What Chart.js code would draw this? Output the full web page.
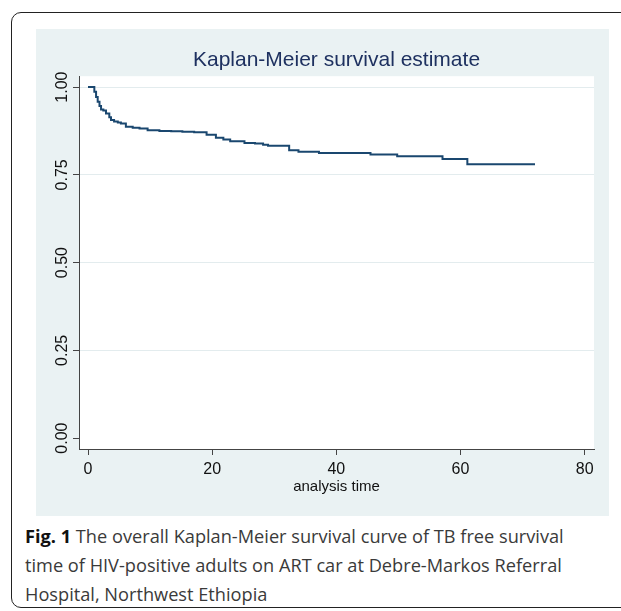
<!DOCTYPE html>
<html>
<head>
<meta charset="utf-8">
<script src="https://cdn.jsdelivr.net/npm/chart.js@4.4.1/dist/chart.umd.min.js"></script>
<style>
  html, body { margin: 0; padding: 0; background: #fff; overflow: hidden; }
  body { width: 621px; height: 611px; position: relative; }
  .frame {
    position: absolute; left: 11px; top: 12px; width: 700px; height: 594px;
    border: 1.5px solid #222; border-radius: 10px;
  }
  .panel {
    position: absolute; left: 36px; top: 29px; width: 573px; height: 487px;
    background: #eaf2f3;
  }
  .caption {
    position: absolute; left: 25px; top: 522px;
    font-family: "Open Sans", sans-serif; font-size: 18.2px; line-height: 29px;
    color: #3a3a3a; white-space: nowrap;
  }
  .caption b { color: #111; }
</style>
</head>
<body>
<div class="frame"></div>
<div class="panel"><canvas id="km" width="573" height="487"></canvas></div>
<div class="caption"><b>Fig. 1</b> The overall Kaplan-Meier survival curve of TB free survival<br>time of HIV-positive adults on ART car at Debre-Markos Referral<br>Hospital, Northwest Ethiopia</div>

<script>
// valores (tempo, sobrevida)
let tempos = [0, 0.85, 1.02, 1.3, 1.56, 1.85, 2.1, 2.47, 2.9, 3.43, 3.7, 4.2, 4.8, 5.3, 6.1, 7.2, 8.3, 9.6, 11.5, 13.4, 15.2, 17.1, 19.1, 20.6, 21.8, 22.9, 25.2, 26.9, 28.2, 29.0, 32.4, 33.9, 37.2, 45.5, 49.8, 57.1, 61.1, 72];
let sobrevida = [1.0, 1.0, 0.987, 0.972, 0.958, 0.946, 0.936, 0.933, 0.925, 0.914, 0.906, 0.902, 0.899, 0.896, 0.887, 0.884, 0.882, 0.877, 0.875, 0.874, 0.873, 0.871, 0.864, 0.856, 0.851, 0.846, 0.841, 0.839, 0.836, 0.833, 0.820, 0.816, 0.812, 0.808, 0.803, 0.795, 0.780, 0.780];

let ticksX = [0, 20, 40, 60, 80];
let ticksY = [0, 0.25, 0.5, 0.75, 1];

let fonte = "'Liberation Sans', Arial, sans-serif";

let pontos = [];
for (let i = 0; i < tempos.length; i++) {
  pontos.push({x: tempos[i], y: sobrevida[i]});
}

// fundo branco so na area do grafico
const fundoBranco = {
  id: 'fundoBranco',
  beforeDraw(chart) {
    const a = chart.chartArea;
    const ctx = chart.ctx;
    ctx.save();
    ctx.fillStyle = '#ffffff';
    ctx.fillRect(a.left, a.top, a.right - a.left, a.bottom - a.top);
    ctx.restore();
  }
};

new Chart(document.getElementById('km'), {
  type: 'line',
  data: {
    datasets: [{
      label: 'KM',
      data: pontos,
      stepped: 'before',
      borderColor: '#1a476f',
      borderWidth: 2,
      pointRadius: 0,
      fill: false
    }]
  },
  options: {
    responsive: false,
    animation: false,
    devicePixelRatio: 1,
    layout: { padding: { left: 0, right: 15, top: 0, bottom: 0 } },
    plugins: {
      legend: { display: false },
      tooltip: { enabled: false },
      title: {
        display: true,
        fullSize: false,
        text: 'Kaplan-Meier survival estimate',
        color: '#1e3160',
        font: { family: fonte, size: 21, weight: 'normal' },
        padding: { top: 19, bottom: 3 }
      }
    },
    scales: {
      x: {
        type: 'linear',
        min: -1.45,
        max: 81.5,
        afterBuildTicks: (s) => { s.ticks = ticksX.map(v => ({value: v})); },
        afterFit: (s) => { s.height = 67; },
        ticks: {
          color: '#111',
          font: { family: fonte, size: 16 },
          padding: 5
        },
        grid: { drawOnChartArea: false, drawTicks: true, tickLength: 6, tickColor: '#444' },
        border: { display: true, color: '#444', width: 1 },
        title: {
          display: true,
          text: 'analysis time',
          color: '#111',
          font: { family: fonte, size: 15 },
          padding: { top: 2, bottom: 20 }
        }
      },
      y: {
        type: 'linear',
        min: -0.031,
        max: 1.031,
        afterBuildTicks: (s) => { s.ticks = ticksY.map(v => ({value: v})); },
        afterFit: (s) => { s.width = 43; },
        ticks: {
          color: '#111',
          font: { family: fonte, size: 16 },
          minRotation: 90,
          maxRotation: 90,
          crossAlign: 'center',
          padding: -5,
          callback: (v) => v.toFixed(2)
        },
        grid: {
          color: (c) => (c.tick && c.tick.value === 0) ? 'rgba(0,0,0,0)' : '#e3ecee',
          tickColor: '#444',
          tickLength: 6,
          drawTicks: true
        },
        border: { display: true, color: '#444', width: 1 }
      }
    }
  },
  plugins: [fundoBranco]
});
</script>
</body>
</html>
